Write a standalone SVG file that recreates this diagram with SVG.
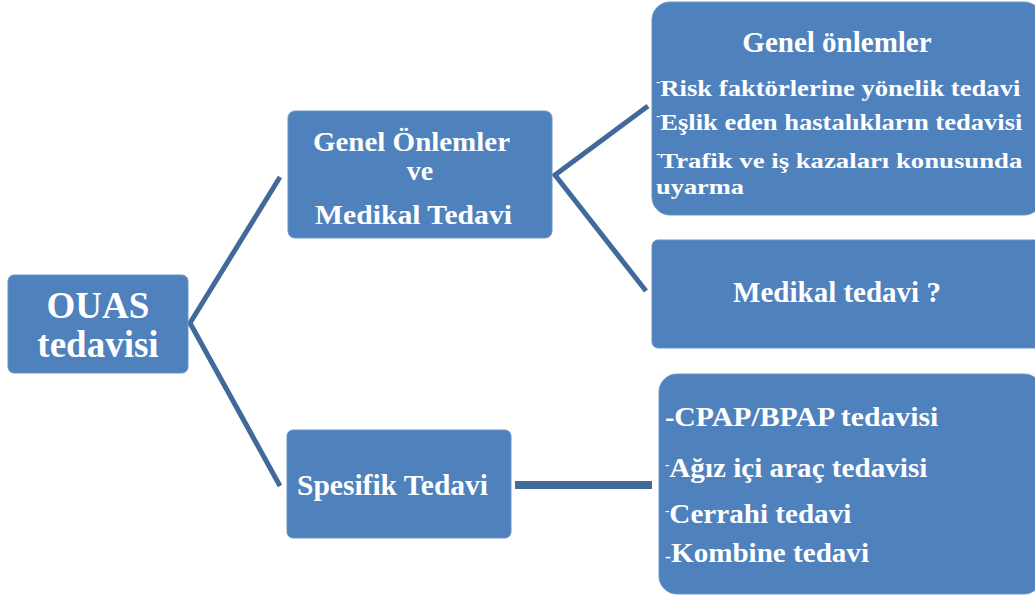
<svg xmlns="http://www.w3.org/2000/svg" width="1035" height="596" viewBox="0 0 1035 596">
<style>
.box{fill:#4f81bd;stroke:#6b93c6;stroke-width:1}
.t{font-family:'Liberation Serif','Times New Roman',serif;font-weight:bold;fill:#ffffff}
.c{fill:none;stroke:#41699a;stroke-width:5;stroke-linejoin:miter}
.d{font-size:13px}
</style>
<rect width="1035" height="596" fill="#ffffff"/>
<g id="connectors">
<polyline class="c" points="280,177 190,323 280,486"/>
<polyline class="c" points="648,106 555,175 646,291"/>
<line class="c" x1="515" y1="485" x2="652" y2="485" style="stroke-width:8"/>
</g>
<g id="n-ouas">
<rect class="box" x="8" y="275" width="180" height="98" rx="6"/>
<text class="t" x="98" y="318" font-size="37" text-anchor="middle">OUAS</text>
<text class="t" x="98" y="357" font-size="37" text-anchor="middle">tedavisi</text>
</g>
<g id="n-genel">
<rect class="box" x="288" y="111" width="264" height="127" rx="7"/>
<text class="t" x="313" y="151" font-size="28" textLength="197" lengthAdjust="spacingAndGlyphs">Genel Önlemler</text>
<text class="t" x="420" y="180" font-size="28" text-anchor="middle">ve</text>
<text class="t" x="315" y="224" font-size="28" textLength="197" lengthAdjust="spacingAndGlyphs">Medikal Tedavi</text>
</g>
<g id="n-spesifik">
<rect class="box" x="287" y="430" width="224" height="108" rx="6"/>
<text class="t" x="297" y="495" font-size="30" textLength="191" lengthAdjust="spacingAndGlyphs">Spesifik Tedavi</text>
</g>
<g id="n-genel-onlemler">
<rect class="box" x="652" y="2" width="390" height="213" rx="18"/>
<text class="t" x="837" y="52" font-size="29" text-anchor="middle">Genel önlemler</text>
<text class="t" x="656" y="96" font-size="24"><tspan class="d" dy="-10">-</tspan><tspan dy="10" textLength="360" lengthAdjust="spacingAndGlyphs">Risk faktörlerine yönelik tedavi</tspan></text>
<text class="t" x="656" y="130" font-size="24"><tspan class="d" dy="-10">-</tspan><tspan dy="10" textLength="362" lengthAdjust="spacingAndGlyphs">Eşlik eden hastalıkların tedavisi</tspan></text>
<text class="t" x="656" y="168" font-size="22"><tspan class="d" dy="-10">-</tspan><tspan dy="10" textLength="362" lengthAdjust="spacingAndGlyphs">Trafik ve iş kazaları konusunda</tspan></text>
<text class="t" x="656" y="194" font-size="22" textLength="88" lengthAdjust="spacingAndGlyphs">uyarma</text>
</g>
<g id="n-medikal">
<rect class="box" x="652" y="240" width="390" height="108" rx="6"/>
<text class="t" x="837" y="302" font-size="29" text-anchor="middle">Medikal tedavi ?</text>
</g>
<g id="n-spesifik-list">
<rect class="box" x="659" y="374" width="383" height="220" rx="18"/>
<text class="t" x="665" y="426" font-size="28">-<tspan textLength="264" lengthAdjust="spacingAndGlyphs">CPAP/BPAP tedavisi</tspan></text>
<text class="t" x="665" y="477" font-size="28"><tspan class="d" dy="-8">-</tspan><tspan dy="8" textLength="258" lengthAdjust="spacingAndGlyphs">Ağız içi araç tedavisi</tspan></text>
<text class="t" x="665" y="523" font-size="28"><tspan class="d" dy="-8">-</tspan><tspan dy="8" textLength="182" lengthAdjust="spacingAndGlyphs">Cerrahi tedavi</tspan></text>
<text class="t" x="665" y="562" font-size="28"><tspan font-size="18" font-weight="normal">-</tspan><tspan textLength="198" lengthAdjust="spacingAndGlyphs">Kombine tedavi</tspan></text>
</g>
</svg>
